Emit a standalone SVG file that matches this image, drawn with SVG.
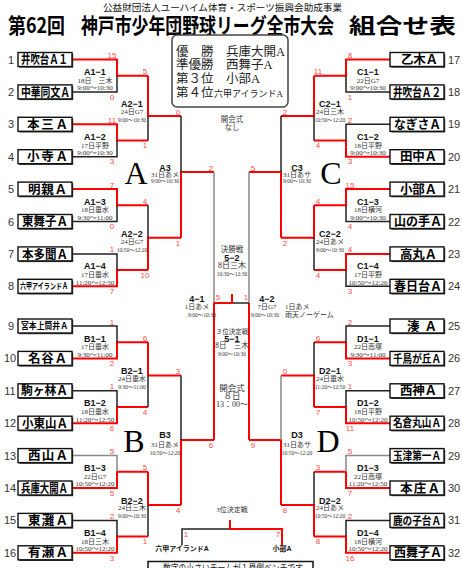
<svg xmlns="http://www.w3.org/2000/svg" width="462" height="568" viewBox="0 0 462 568">
<style>
.box{fill:#fff;stroke:#111;stroke-width:1.4}
.sh{fill:#333}
.tn{font-family:"Noto Sans CJK JP","Liberation Sans",sans-serif;font-weight:bold;font-size:12.5px;fill:#000}
.num{font-family:"Liberation Sans",sans-serif;font-size:11px;fill:#333;text-anchor:middle}
.r{stroke:#ff0000;stroke-width:2;fill:none}
.k{stroke:#222;stroke-width:1.5;fill:none}
.g{stroke:#888;stroke-width:1.5;fill:none}
.sc{font-family:"Liberation Sans",sans-serif;font-size:8px;fill:#ff4a4a;text-anchor:middle}
.ml{font-family:"Liberation Sans","Noto Sans CJK JP",sans-serif;font-weight:bold;font-size:9px;fill:#111;text-anchor:middle}
.md{font-family:"Liberation Serif","Noto Sans CJK JP",serif;font-size:7px;fill:#333;text-anchor:middle}
.ms{font-family:"Liberation Serif","Noto Sans CJK JP",serif;font-size:5.5px;fill:#333;text-anchor:middle}
.big{font-family:"Liberation Serif",serif;font-size:32px;fill:#000;text-anchor:middle}
.wt{font-family:"Liberation Serif","Noto Sans CJK JP",serif;font-size:12.5px;fill:#222}
.ttl{font-family:"Noto Sans CJK JP",sans-serif;font-weight:bold;font-size:21px;fill:#000}
</style>

<g id="title">
<text x="103" y="11" style="font-family:'Noto Sans CJK JP',sans-serif;font-size:9.5px;fill:#111" textLength="239" lengthAdjust="spacingAndGlyphs">公益財団法人ユーハイム体育・スポーツ振興会助成事業</text>
<text class="ttl" x="8" y="32.5" textLength="57" lengthAdjust="spacingAndGlyphs">第62回</text>
<text class="ttl" x="81" y="32.5" textLength="253" lengthAdjust="spacingAndGlyphs">神戸市少年団野球リーグ全市大会</text>
<text class="ttl" x="349" y="32.5" textLength="107" lengthAdjust="spacingAndGlyphs">組合せ表</text>
</g>

<g id="winners">
<rect x="172" y="35" width="116" height="72" rx="5" fill="#fff" stroke="#444" stroke-width="1.5"/>
<text class="wt" x="176" y="55.5">優　勝</text>
<text class="wt" x="226" y="55.5">兵庫大開A</text>
<text class="wt" x="176" y="69">準優勝</text>
<text class="wt" x="226" y="69">西舞子A</text>
<text class="wt" x="176" y="83">第３位</text>
<text class="wt" x="226" y="83">小部A</text>
<text class="wt" x="176" y="97">第４位</text>
<text class="wt" x="214" y="96.5" style="font-size:9px" textLength="69" lengthAdjust="spacingAndGlyphs">六甲アイランドA</text>
</g>

<g id="connectors">
<path class="r" d="M72 59.5H117V75.7H148"/><path class="k" d="M72 91.9H117V75.7"/>
<path class="r" d="M72 124.3H117V140.5H148"/><path class="k" d="M72 156.7H117V140.5"/>
<path class="r" d="M72 189.1H117V205.3H148"/><path class="k" d="M72 221.5H117V205.3"/>
<path class="r" d="M72 286.3H117V270.1H148"/><path class="k" d="M72 253.9H117V270.1"/>
<path class="r" d="M148 75.7V116H181"/><path class="k" d="M148 140.5V116"/>
<path class="r" d="M148 270.1V237.7H181"/><path class="k" d="M148 205.3V237.7"/>
<path class="r" d="M181 237.7V172H214"/><path class="k" d="M181 116V172"/>

<path class="r" d="M72 358.4H117V342.2H148"/><path class="k" d="M72 326H117V342.2"/>
<path class="r" d="M72 423.2H117V407H148"/><path class="k" d="M72 390.8H117V407"/>
<path class="r" d="M72 488H117V471.8H148"/><path class="g" d="M72 455.6H117V471.8"/>
<path class="r" d="M72 552.8H117V536.6H148"/><path class="k" d="M72 520.4H117V536.6"/>
<path class="r" d="M148 342.2V375.5H181"/><path class="k" d="M148 407V375.5"/>
<path class="r" d="M148 471.8V505H181"/><path class="k" d="M148 536.6V505"/>
<path class="r" d="M181 505V440H214"/><path class="k" d="M181 375.5V440"/>

<path class="r" d="M390 59.5H346V75.7H314"/><path class="k" d="M390 91.9H346V75.7"/>
<path class="r" d="M390 156.7H346V140.5H314"/><path class="k" d="M390 124.3H346V140.5"/>
<path class="r" d="M390 189.1H346V205.3H314"/><path class="k" d="M390 221.5H346V205.3"/>
<path class="r" d="M390 253.9H346V270.1H314"/><path class="k" d="M390 286.3H346V270.1"/>
<path class="r" d="M314 75.7V116H281"/><path class="k" d="M314 140.5V116"/>
<path class="r" d="M314 205.3V237.7H281"/><path class="k" d="M314 270.1V237.7"/>
<path class="r" d="M281 237.7V172H249"/><path class="k" d="M281 116V172"/>

<path class="r" d="M390 358.4H346V342.2H314"/><path class="k" d="M390 326H346V342.2"/>
<path class="r" d="M390 423.2H346V407H314"/><path class="k" d="M390 390.8H346V407"/>
<path class="r" d="M390 488H346V471.8H314"/><path class="g" d="M390 455.6H346V471.8"/>
<path class="r" d="M390 552.8H346V536.6H314"/><path class="k" d="M390 520.4H346V536.6"/>
<path class="r" d="M314 407V375.5H281"/><path class="k" d="M314 342.2V375.5"/>
<path class="r" d="M314 536.6V505H281"/><path class="k" d="M314 471.8V505"/>
<path class="r" d="M281 505V440H249"/><path class="g" d="M281 375.5V440"/>

<path class="g" d="M214 172V303"/><path class="g" d="M249 172V303"/>
<path class="r" d="M214 303V440"/><path class="r" d="M249 303V440"/>
<path class="k" d="M232 303H249"/><path class="r" d="M214 303H232V294"/>
<path class="k" d="M182 545V529H230"/><path class="r" d="M230 520V529H282V545"/>
</g>

<g id="scores">
<text class="sc" x="112" y="58">15</text><text class="sc" x="112" y="99.6">0</text>
<text class="sc" x="112" y="122.8">11</text><text class="sc" x="112" y="164.4">3</text>
<text class="sc" x="112" y="187.6">7</text><text class="sc" x="112" y="229.2">0</text>
<text class="sc" x="112" y="252.4">1</text><text class="sc" x="112" y="294">7</text>
<text class="sc" x="112" y="324.5">1</text><text class="sc" x="112" y="366.1">2</text>
<text class="sc" x="112" y="389.3">1</text><text class="sc" x="112" y="430.9">6</text>
<text class="sc" x="112" y="454.1">5</text><text class="sc" x="112" y="495.7">5</text>
<text class="sc" x="112" y="518.9">2</text><text class="sc" x="112" y="560.5">3</text>
<text class="sc" x="350" y="58">8</text><text class="sc" x="350" y="99.6">1</text>
<text class="sc" x="350" y="122.8">2</text><text class="sc" x="350" y="164.4">3</text>
<text class="sc" x="350" y="187.6">15</text><text class="sc" x="350" y="229.2">4</text>
<text class="sc" x="350" y="252.4">4</text><text class="sc" x="350" y="294">3</text>
<text class="sc" x="350" y="324.5">2</text><text class="sc" x="350" y="366.1">3</text>
<text class="sc" x="350" y="389.3">1</text><text class="sc" x="350" y="430.9">11</text>
<text class="sc" x="350" y="454.1">5</text><text class="sc" x="350" y="495.7">7</text>
<text class="sc" x="350" y="518.9">2</text><text class="sc" x="350" y="560.5">16</text>
<text class="sc" x="145" y="74.2">5</text><text class="sc" x="145" y="148.2">1</text>
<text class="sc" x="145" y="203.8">4</text><text class="sc" x="145" y="277.8">10</text>
<text class="sc" x="145" y="340.7">6</text><text class="sc" x="145" y="414.7">4</text>
<text class="sc" x="145" y="470.3">5</text><text class="sc" x="145" y="544.3">1</text>
<text class="sc" x="318" y="74.2">11</text><text class="sc" x="318" y="148.2">4</text>
<text class="sc" x="318" y="203.8">4</text><text class="sc" x="318" y="277.8">4</text>
<text class="sc" x="318" y="340.7">6</text><text class="sc" x="318" y="414.7">7</text>
<text class="sc" x="318" y="470.3">3</text><text class="sc" x="318" y="544.3">8</text>
<text class="sc" x="178" y="114.5">0</text><text class="sc" x="178" y="245.7">1</text>
<text class="sc" x="285" y="114.5">2</text><text class="sc" x="285" y="245.7">2</text>
<text class="sc" x="178" y="374">3</text><text class="sc" x="178" y="513">4</text>
<text class="sc" x="285" y="374">0</text><text class="sc" x="285" y="513">8</text>
<text class="sc" x="211" y="170.5">2</text><text class="sc" x="253" y="170.5">5</text>
<text class="sc" x="211" y="448">6</text><text class="sc" x="253" y="448">9</text>
<text class="sc" x="218" y="300">5</text><text class="sc" x="246" y="300">1</text>
<text class="sc" x="186" y="537">1</text><text class="sc" x="278" y="537">7</text>
</g>

<g id="blocks">
<text class="big" x="136" y="184">A</text>
<text class="big" x="331" y="184">C</text>
<text class="big" x="134" y="452">B</text>
<text class="big" x="328" y="452">D</text>
</g>

<g id="match-labels">
<g id="m-A1-1"><text class="ml" x="95" y="75">A1−1</text><text class="md" x="95" y="82.7">18日　三木</text><text class="md" x="95" y="90.2">9:00～10:30</text></g>
<g id="m-A1-2"><text class="ml" x="95" y="139.8">A1−2</text><text class="md" x="95" y="147.5">17日平野</text><text class="md" x="95" y="155">9:00～10:30</text></g>
<g id="m-A1-3"><text class="ml" x="95" y="204.6">A1−3</text><text class="md" x="95" y="212.3">18日垂水</text><text class="md" x="95" y="219.8">9:30～11:00</text></g>
<g id="m-A1-4"><text class="ml" x="95" y="269.4">A1−4</text><text class="md" x="95" y="277.1">17日垂水</text><text class="md" x="95" y="284.6">11:20～12:50</text></g>
<g id="m-B1-1"><text class="ml" x="95" y="341.5">B1−1</text><text class="md" x="95" y="349.2">17日垂水</text><text class="md" x="95" y="356.7">9:30～11:00</text></g>
<g id="m-B1-2"><text class="ml" x="95" y="406.3">B1−2</text><text class="md" x="95" y="414">18日垂水</text><text class="md" x="95" y="421.5">11:20～12:50</text></g>
<g id="m-B1-3"><text class="ml" x="95" y="471.1">B1−3</text><text class="md" x="95" y="478.8">22日G7</text><text class="md" x="95" y="486.3">10:50～12:20</text></g>
<g id="m-B1-4"><text class="ml" x="95" y="535.9">B1−4</text><text class="md" x="95" y="543.6">18日三木</text><text class="md" x="95" y="551.1">10:50～12:20</text></g>
<g id="m-C1-1"><text class="ml" x="368" y="75">C1−1</text><text class="md" x="368" y="82.7">22日G7</text><text class="md" x="368" y="90.2">9:00～10:30</text></g>
<g id="m-C1-2"><text class="ml" x="368" y="139.8">C1−2</text><text class="md" x="368" y="147.5">18日平野</text><text class="md" x="368" y="155">9:00～10:30</text></g>
<g id="m-C1-3"><text class="ml" x="368" y="204.6">C1−3</text><text class="md" x="368" y="212.3">18日横河</text><text class="md" x="368" y="219.8">9:00～10:30</text></g>
<g id="m-C1-4"><text class="ml" x="368" y="269.4">C1−4</text><text class="md" x="368" y="277.1">17日平野</text><text class="md" x="368" y="284.6">10:50～12:20</text></g>
<g id="m-D1-1"><text class="ml" x="368" y="341.5">D1−1</text><text class="md" x="368" y="349.2">22日高塚</text><text class="md" x="368" y="356.7">9:30～11:00</text></g>
<g id="m-D1-2"><text class="ml" x="368" y="406.3">D1−2</text><text class="md" x="368" y="414">18日平野</text><text class="md" x="368" y="421.5">10:50～12:20</text></g>
<g id="m-D1-3"><text class="ml" x="368" y="471.1">D1−3</text><text class="md" x="368" y="478.8">22日高塚</text><text class="md" x="368" y="486.3">11:20～12:50</text></g>
<g id="m-D1-4"><text class="ml" x="368" y="535.9">D1−4</text><text class="md" x="368" y="543.6">18日横河</text><text class="md" x="368" y="551.1">10:50～12:20</text></g>

<g id="m-A2-1"><text class="ml" x="132" y="107.4">A2−1</text><text class="md" x="132" y="114.1">24日G7</text><text class="ms" x="132" y="122.1">9:00～10:30</text></g>
<g id="m-A2-2"><text class="ml" x="132" y="237">A2−2</text><text class="md" x="132" y="243.7">24日G7</text><text class="ms" x="132" y="251.7">10:50～12:20</text></g>
<g id="m-B2-1"><text class="ml" x="132" y="373.9">B2−1</text><text class="md" x="132" y="380.6">24日垂水</text><text class="ms" x="132" y="388.6">9:30～11:00</text></g>
<g id="m-B2-2"><text class="ml" x="132" y="503.5">B2−2</text><text class="md" x="132" y="510.2">24日三木</text><text class="ms" x="132" y="518.2">9:00～10:30</text></g>
<g id="m-C2-1"><text class="ml" x="330" y="107.4">C2−1</text><text class="md" x="330" y="114.1">24日三木</text><text class="ms" x="330" y="122.1">10:50～12:20</text></g>
<g id="m-C2-2"><text class="ml" x="330" y="237">C2−2</text><text class="md" x="330" y="243.7">24日あメ</text><text class="ms" x="330" y="251.7">9:00～10:30</text></g>
<g id="m-D2-1"><text class="ml" x="330" y="373.9">D2−1</text><text class="md" x="330" y="380.6">24日垂水</text><text class="ms" x="330" y="388.6">11:20～12:50</text></g>
<g id="m-D2-2"><text class="ml" x="330" y="503.5">D2−2</text><text class="md" x="330" y="510.2">24日あメ</text><text class="ms" x="330" y="518.2">10:50～12:20</text></g>

<g id="m-A3"><text class="ml" x="165" y="171">A3</text><text class="md" x="165" y="177">31日あメ</text><text class="ms" x="165" y="182.5">9:00～10:30</text></g>
<g id="m-C3"><text class="ml" x="297" y="171">C3</text><text class="md" x="297" y="177">31日あサ</text><text class="ms" x="297" y="182.5">9:00～10:30</text></g>
<g id="m-B3"><text class="ml" x="165" y="438">B3</text><text class="md" x="165" y="447">31日あメ</text><text class="ms" x="165" y="455">10:50～12:20</text></g>
<g id="m-D3"><text class="ml" x="297" y="438">D3</text><text class="md" x="297" y="447">31日あサ</text><text class="ms" x="297" y="455">10:50～12:20</text></g>

<g id="m-4-1"><text class="ml" x="197" y="301.5">4−1</text><text class="md" x="197" y="308.5">1日あメ</text><text class="ms" x="202" y="317">9:00～10:30</text></g>
<g id="m-4-2"><text class="ml" x="267" y="301.5">4−2</text><text class="md" x="267" y="308.5">7日G7</text><text class="ms" x="265" y="317">9:00～10:30</text>
<text class="md" x="285" y="308.5" style="text-anchor:start">1日あメ</text><text class="md" x="285" y="317" style="text-anchor:start">雨天ノーゲーム</text></g>
<g id="m-5-2"><text class="md" x="232" y="252" style="font-size:7.5px">決勝戦</text><text class="ml" x="232" y="260.5">5−2</text><text class="md" x="232" y="268" style="font-size:8px">8日三木</text><text class="ms" x="232" y="275.5">10:30～12:30</text></g>
<g id="m-5-1"><text class="md" x="232" y="333.5" style="font-size:6.5px">３位決定戦</text><text class="ml" x="232" y="341.5">5−1</text><text class="md" x="232" y="348" style="font-size:7.5px">8日　三木</text><text class="ms" x="232" y="355.5">9:00～10:30</text></g>
<g id="opening"><text class="md" x="232" y="391" style="font-size:8.5px">開会式</text><text class="md" x="232" y="399" style="font-size:8.5px">８日</text><text class="md" x="232" y="406.5" style="font-size:8px">13：00～</text></g>
<g id="opening-top"><text class="md" x="232" y="122" style="font-size:7.5px">開会式</text><text class="md" x="232" y="130" style="font-size:7.5px">なし</text></g>
<g id="third-place"><text class="md" x="232" y="511.5">3位決定戦</text>
<text class="ml" x="182" y="550.5" style="font-size:7px">六甲アイランドA</text><text class="ml" x="282" y="550.5" style="font-size:7px">小部A</text></g>
</g>

<g id="note">
<rect x="148" y="561.5" width="165" height="20" fill="#fff" stroke="#111" stroke-width="1.5"/>
<text x="163" y="572" style="font-family:'Noto Sans CJK JP',sans-serif;font-size:10px;fill:#222" textLength="140" lengthAdjust="spacingAndGlyphs">数字の小さいチームが１塁側ベンチです</text>
</g>

<g id="team1"><rect class="sh" x="19.2" y="53.7" width="54" height="14"/><rect class="box" x="18" y="52.5" width="54" height="14"/><text class="tn" x="21" y="64.1" textLength="47" lengthAdjust="spacingAndGlyphs">井吹台Ａ１</text><text class="num" x="11" y="63.5">1</text></g>
<g id="team2"><rect class="sh" x="19.2" y="86.1" width="54" height="14"/><rect class="box" x="18" y="84.9" width="54" height="14"/><text class="tn" x="21" y="96.5" textLength="49" lengthAdjust="spacingAndGlyphs">中華同文Ａ</text><text class="num" x="11" y="95.9">2</text></g>
<g id="team3"><rect class="sh" x="19.2" y="118.5" width="54" height="14"/><rect class="box" x="18" y="117.3" width="54" height="14"/><text class="tn" x="27" y="128.9" textLength="41" lengthAdjust="spacing">本三Ａ</text><text class="num" x="11" y="128.3">3</text></g>
<g id="team4"><rect class="sh" x="19.2" y="150.9" width="54" height="14"/><rect class="box" x="18" y="149.7" width="54" height="14"/><text class="tn" x="27" y="161.3" textLength="41" lengthAdjust="spacing">小寺Ａ</text><text class="num" x="11" y="160.7">4</text></g>
<g id="team5"><rect class="sh" x="19.2" y="183.3" width="54" height="14"/><rect class="box" x="18" y="182.1" width="54" height="14"/><text class="tn" x="28" y="193.7" textLength="39" lengthAdjust="spacing">明親Ａ</text><text class="num" x="11" y="193.1">5</text></g>
<g id="team6"><rect class="sh" x="19.2" y="215.7" width="54" height="14"/><rect class="box" x="18" y="214.5" width="54" height="14"/><text class="tn" x="22" y="226.1" textLength="46" lengthAdjust="spacingAndGlyphs">東舞子Ａ</text><text class="num" x="11" y="225.5">6</text></g>
<g id="team7"><rect class="sh" x="19.2" y="248.1" width="54" height="14"/><rect class="box" x="18" y="246.9" width="54" height="14"/><text class="tn" x="22" y="258.5" textLength="46" lengthAdjust="spacingAndGlyphs">本多聞Ａ</text><text class="num" x="11" y="257.9">7</text></g>
<g id="team8"><rect class="sh" x="19.2" y="280.5" width="54" height="14"/><rect class="box" x="18" y="279.3" width="54" height="14"/><text class="tn" x="20" y="289.3" style="font-size:8.5px" textLength="48" lengthAdjust="spacingAndGlyphs">六甲アイランドＡ</text><text class="num" x="11" y="290.3">8</text></g>
<g id="team9"><rect class="sh" x="19.2" y="320.2" width="54" height="14"/><rect class="box" x="18" y="319" width="54" height="14"/><text class="tn" x="21" y="329.3" style="font-size:9px" textLength="47" lengthAdjust="spacingAndGlyphs">宮本上筒井Ａ</text><text class="num" x="11" y="330">9</text></g>
<g id="team10"><rect class="sh" x="19.2" y="352.6" width="54" height="14"/><rect class="box" x="18" y="351.4" width="54" height="14"/><text class="tn" x="28" y="363" textLength="39" lengthAdjust="spacing">名谷Ａ</text><text class="num" x="10" y="362.4">10</text></g>
<g id="team11"><rect class="sh" x="19.2" y="385" width="54" height="14"/><rect class="box" x="18" y="383.8" width="54" height="14"/><text class="tn" x="21" y="395.4" textLength="47" lengthAdjust="spacingAndGlyphs">駒ヶ林Ａ</text><text class="num" x="10" y="394.8">11</text></g>
<g id="team12"><rect class="sh" x="19.2" y="417.4" width="54" height="14"/><rect class="box" x="18" y="416.2" width="54" height="14"/><text class="tn" x="22" y="427.8" textLength="46" lengthAdjust="spacingAndGlyphs">小東山Ａ</text><text class="num" x="10" y="427.2">12</text></g>
<g id="team13"><rect class="sh" x="19.2" y="449.8" width="54" height="14"/><rect class="box" x="18" y="448.6" width="54" height="14"/><text class="tn" x="28" y="460.2" textLength="40" lengthAdjust="spacing">西山Ａ</text><text class="num" x="10" y="459.6">13</text></g>
<g id="team14"><rect class="sh" x="19.2" y="482.2" width="54" height="14"/><rect class="box" x="18" y="481" width="54" height="14"/><text class="tn" x="21" y="492.6" textLength="47" lengthAdjust="spacingAndGlyphs">兵庫大開Ａ</text><text class="num" x="10" y="492">14</text></g>
<g id="team15"><rect class="sh" x="19.2" y="514.6" width="54" height="14"/><rect class="box" x="18" y="513.4" width="54" height="14"/><text class="tn" x="28" y="525" textLength="40" lengthAdjust="spacing">東灘Ａ</text><text class="num" x="10" y="524.4">15</text></g>
<g id="team16"><rect class="sh" x="19.2" y="547" width="54" height="14"/><rect class="box" x="18" y="545.8" width="54" height="14"/><text class="tn" x="28" y="557.4" textLength="40" lengthAdjust="spacing">有瀬Ａ</text><text class="num" x="10" y="556.8">16</text></g>

<g id="team17"><rect class="sh" x="391.2" y="53.7" width="54" height="14"/><rect class="box" x="390" y="52.5" width="54" height="14"/><text class="tn" x="401" y="64.1" textLength="37" lengthAdjust="spacing">乙木Ａ</text><text class="num" x="454" y="63.5">17</text></g>
<g id="team18"><rect class="sh" x="391.2" y="86.1" width="54" height="14"/><rect class="box" x="390" y="84.9" width="54" height="14"/><text class="tn" x="393" y="96.5" textLength="48" lengthAdjust="spacingAndGlyphs">井吹台Ａ２</text><text class="num" x="454" y="95.9">18</text></g>
<g id="team19"><rect class="sh" x="391.2" y="118.5" width="54" height="14"/><rect class="box" x="390" y="117.3" width="54" height="14"/><text class="tn" x="394" y="128.9" textLength="47" lengthAdjust="spacingAndGlyphs">なぎさＡ</text><text class="num" x="454" y="128.3">19</text></g>
<g id="team20"><rect class="sh" x="391.2" y="150.9" width="54" height="14"/><rect class="box" x="390" y="149.7" width="54" height="14"/><text class="tn" x="400" y="161.3" textLength="37" lengthAdjust="spacing">田中Ａ</text><text class="num" x="454" y="160.7">20</text></g>
<g id="team21"><rect class="sh" x="391.2" y="183.3" width="54" height="14"/><rect class="box" x="390" y="182.1" width="54" height="14"/><text class="tn" x="400" y="193.7" textLength="37" lengthAdjust="spacing">小部Ａ</text><text class="num" x="454" y="193.1">21</text></g>
<g id="team22"><rect class="sh" x="391.2" y="215.7" width="54" height="14"/><rect class="box" x="390" y="214.5" width="54" height="14"/><text class="tn" x="394" y="226.1" textLength="48" lengthAdjust="spacingAndGlyphs">山の手Ａ</text><text class="num" x="454" y="225.5">22</text></g>
<g id="team23"><rect class="sh" x="391.2" y="248.1" width="54" height="14"/><rect class="box" x="390" y="246.9" width="54" height="14"/><text class="tn" x="400" y="258.5" textLength="37" lengthAdjust="spacing">高丸Ａ</text><text class="num" x="454" y="257.9">23</text></g>
<g id="team24"><rect class="sh" x="391.2" y="280.5" width="54" height="14"/><rect class="box" x="390" y="279.3" width="54" height="14"/><text class="tn" x="394" y="290.9" textLength="48" lengthAdjust="spacingAndGlyphs">春日台Ａ</text><text class="num" x="454" y="290.3">24</text></g>
<g id="team25"><rect class="sh" x="391.2" y="320.2" width="54" height="14"/><rect class="box" x="390" y="319" width="54" height="14"/><text class="tn" x="407" y="330.6" textLength="30" lengthAdjust="spacing">湊Ａ</text><text class="num" x="454" y="330">25</text></g>
<g id="team26"><rect class="sh" x="391.2" y="352.6" width="54" height="14"/><rect class="box" x="390" y="351.4" width="54" height="14"/><text class="tn" x="393" y="362.6" style="font-size:11.5px" textLength="48" lengthAdjust="spacingAndGlyphs">千鳥が丘Ａ</text><text class="num" x="454" y="362.4">26</text></g>
<g id="team27"><rect class="sh" x="391.2" y="385" width="54" height="14"/><rect class="box" x="390" y="383.8" width="54" height="14"/><text class="tn" x="400" y="395.4" textLength="37" lengthAdjust="spacing">西神Ａ</text><text class="num" x="454" y="394.8">27</text></g>
<g id="team28"><rect class="sh" x="391.2" y="417.4" width="54" height="14"/><rect class="box" x="390" y="416.2" width="54" height="14"/><text class="tn" x="393" y="427.4" style="font-size:11.5px" textLength="48" lengthAdjust="spacingAndGlyphs">名倉丸山Ａ</text><text class="num" x="454" y="427.2">28</text></g>
<g id="team29"><rect class="sh" x="391.2" y="449.8" width="54" height="14"/><rect class="box" x="390" y="448.6" width="54" height="14"/><text class="tn" x="393" y="459.8" style="font-size:11.5px" textLength="48" lengthAdjust="spacingAndGlyphs">玉津第一Ａ</text><text class="num" x="454" y="459.6">29</text></g>
<g id="team30"><rect class="sh" x="391.2" y="482.2" width="54" height="14"/><rect class="box" x="390" y="481" width="54" height="14"/><text class="tn" x="400" y="492.6" textLength="40" lengthAdjust="spacing">本庄Ａ</text><text class="num" x="454" y="492">30</text></g>
<g id="team31"><rect class="sh" x="391.2" y="514.6" width="54" height="14"/><rect class="box" x="390" y="513.4" width="54" height="14"/><text class="tn" x="393" y="524.6" style="font-size:11.5px" textLength="48" lengthAdjust="spacingAndGlyphs">鹿の子台Ａ</text><text class="num" x="454" y="524.4">31</text></g>
<g id="team32"><rect class="sh" x="391.2" y="547" width="54" height="14"/><rect class="box" x="390" y="545.8" width="54" height="14"/><text class="tn" x="394" y="557.4" textLength="48" lengthAdjust="spacingAndGlyphs">西舞子Ａ</text><text class="num" x="454" y="556.8">32</text></g>
</svg>
